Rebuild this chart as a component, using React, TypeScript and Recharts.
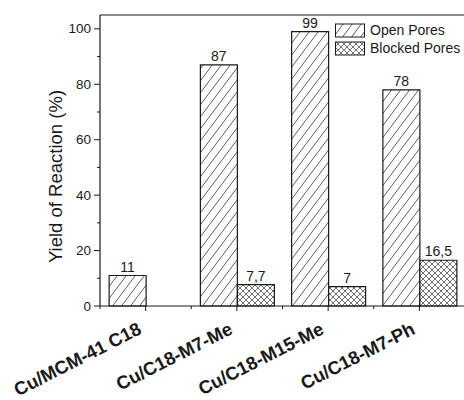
import { Bar, BarChart, LabelList, Legend, ReferenceLine, XAxis, YAxis } from "recharts";

const categories = ["Cu/MCM-41 C18", "Cu/C18-M7-Me", "Cu/C18-M15-Me", "Cu/C18-M7-Ph"];
const openPores = [11, 87, 99, 78];
const blockedPores: (number | null)[] = [null, 7.7, 7, 16.5];
const yTicks = [0, 10, 20, 30, 40, 50, 60, 70, 80, 90, 100];

const INK = "#1a1a1a";
const FONT = "Liberation Sans, Arial, sans-serif";

const data = categories.map((name, i) => ({ name, open: openPores[i], blocked: blockedPores[i] }));

const fmtComma = (v: unknown) => (v == null ? "" : String(v).replace(".", ","));

function Patterns({ prefix }: { prefix: string }) {
  return (
    <defs>
      <pattern id={`${prefix}-diag`} patternUnits="userSpaceOnUse" width={9} height={12}>
        <rect width={9} height={12} fill="#fff" />
        <path d="M0,12 L9,0 M-9,12 L0,0 M9,12 L18,0" stroke="#333" strokeWidth={0.8} />
      </pattern>
      <pattern id={`${prefix}-cross`} patternUnits="userSpaceOnUse" width={6} height={6}>
        <rect width={6} height={6} fill="#fff" />
        <path d="M0,0 L6,6 M0,6 L6,0 M-1,5 L1,7 M5,-1 L7,1 M-1,1 L1,-1 M5,7 L7,5" stroke="#333" strokeWidth={0.7} />
      </pattern>
    </defs>
  );
}

function YTick({ x, y, payload }: any) {
  const major = payload.value % 20 === 0;
  return (
    <g>
      <line x1={x - (major ? 6 : 3)} x2={x} y1={y} y2={y} stroke={INK} strokeWidth={1} />
      {major && (
        <text x={x - 9} y={y} dy={4.5} textAnchor="end" fontSize={13.5} fill={INK} fontFamily={FONT}>
          {payload.value}
        </text>
      )}
    </g>
  );
}

function XTick({ x, y, payload }: any) {
  const half = payload.offset ?? 0;
  return (
    <g>
      <line x1={x} x2={x} y1={y} y2={y + 5} stroke={INK} strokeWidth={1} />
      {half > 0 && <line x1={x - half} x2={x - half} y1={y} y2={y + 3} stroke={INK} strokeWidth={1} />}
      <g transform={`translate(${x - 3},${y + 27}) rotate(-27)`}>
        <text x={0} y={0} textAnchor="end" fontSize={18.5} fontWeight="bold" fill={INK} fontFamily={FONT}>
          {payload.value}
        </text>
      </g>
    </g>
  );
}

function LegendBox() {
  const items = [
    { label: "Open Pores", fill: "url(#lg-diag)" },
    { label: "Blocked Pores", fill: "url(#lg-cross)" },
  ];
  return (
    <div style={{ fontFamily: FONT, fontSize: 14, color: INK, lineHeight: "17px", whiteSpace: "nowrap" }}>
      <svg width={0} height={0} style={{ position: "absolute" }}>
        <Patterns prefix="lg" />
      </svg>
      {items.map((it) => (
        <div key={it.label} style={{ display: "flex", alignItems: "center", height: 17.5 }}>
          <svg width={31} height={15} style={{ marginRight: 4 }}>
            <rect x={0.5} y={1} width={29} height={13} fill={it.fill} stroke={INK} strokeWidth={1} />
          </svg>
          <span>{it.label}</span>
        </div>
      ))}
    </div>
  );
}

export default function App() {
  return (
    <div style={{ position: "absolute", left: 0, top: 0, width: 464, height: 400, overflow: "hidden", background: "#fff" }}>
      <BarChart
        width={470}
        height={400}
        data={data}
        margin={{ top: 15, right: 5, bottom: 0, left: 0 }}
        barCategoryGap="10%"
        barGap={0}
      >
        <Patterns prefix="ch" />
        <XAxis
          dataKey="name"
          height={94}
          tickSize={0}
          tickMargin={0}
          interval={0}
          axisLine={{ stroke: INK, strokeWidth: 1.2 }}
          tick={<XTick />}
        />
        <YAxis
          width={100}
          domain={[0, 105]}
          ticks={yTicks}
          tickSize={0}
          tickMargin={0}
          axisLine={{ stroke: INK, strokeWidth: 1.2 }}
          tick={<YTick />}
          label={{
            value: "Yield of Reaction (%)",
            angle: -90,
            position: "insideLeft",
            dx: 50,
            dy: 16,
            fontSize: 18.5,
            fill: INK,
            fontFamily: FONT,
            style: { textAnchor: "middle" },
          }}
        />
        <ReferenceLine y={105} stroke={INK} strokeWidth={1.2} />
        <Legend
          layout="vertical"
          align="center"
          verticalAlign="middle"
          content={<LegendBox />}
          wrapperStyle={{ left: 335, top: 22, width: 135, height: 40 }}
        />
        <Bar dataKey="open" fill="url(#ch-diag)" stroke={INK} strokeWidth={1.2} isAnimationActive={false}>
          <LabelList dataKey="open" position="top" offset={4} fontSize={14} fill={INK} fontFamily={FONT} formatter={fmtComma} />
        </Bar>
        <Bar dataKey="blocked" fill="url(#ch-cross)" stroke={INK} strokeWidth={1.2} isAnimationActive={false}>
          <LabelList dataKey="blocked" position="top" offset={4} fontSize={14} fill={INK} fontFamily={FONT} formatter={fmtComma} />
        </Bar>
      </BarChart>
    </div>
  );
}
